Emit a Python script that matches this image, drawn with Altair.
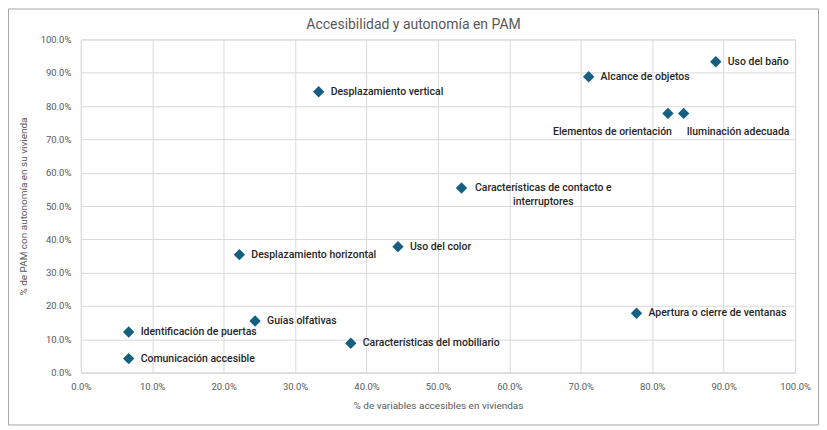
import altair as alt
import pandas as pd

names = [
    "Desplazamiento vertical",
    "Uso del baño",
    "Alcance de objetos",
    "Elementos de orientación",
    "Iluminación adecuada",
    "Características de contacto e interruptores",
    "Uso del color",
    "Desplazamiento horizontal",
    "Guías olfativas",
    "Identificación de puertas",
    "Comunicación accesible",
    "Características del mobiliario",
    "Apertura o cierre de ventanas",
]
x_vals = [0.333, 0.889, 0.711, 0.822, 0.844, 0.533, 0.444, 0.222, 0.244, 0.067, 0.067, 0.378, 0.778]
y_vals = [0.843, 0.933, 0.888, 0.778, 0.778, 0.554, 0.378, 0.354, 0.155, 0.122, 0.042, 0.088, 0.178]
tick_values = [0.0, 0.1, 0.2, 0.3, 0.4, 0.5, 0.6, 0.7, 0.8, 0.9, 1.0]
title_text = "Accesibilidad y autonomía en PAM"

df = pd.DataFrame({"name": names, "x": x_vals, "y": y_vals})

W, H = 716, 334
FONT = "Roboto"
GREY = "#595959"
GRID = "#d9d9d9"

x_enc = alt.X(
    "x:Q",
    scale=alt.Scale(domain=[0, 1], nice=False),
    axis=alt.Axis(
        values=tick_values, format=".1%", title="% de variables accesibles en viviendas",
        grid=True, gridColor=GRID, ticks=False, domain=True, domainColor=GRID,
        labelFlush=False,
        labelColor=GREY, labelFontSize=9.5, labelFont=FONT, labelPadding=9,
        titleColor=GREY, titleFontSize=10, titleFont=FONT, titleFontWeight="normal",
        titlePadding=9,
    ),
)
y_enc = alt.Y(
    "y:Q",
    scale=alt.Scale(domain=[0, 1], nice=False),
    axis=alt.Axis(
        values=tick_values, format=".1%", title="% de PAM con autonomía en su vivienda",
        grid=True, gridColor=GRID, ticks=False, domain=False, labelFlush=False,
        labelColor=GREY, labelFontSize=9.5, labelFont=FONT, labelPadding=10,
        titleColor=GREY, titleFontSize=10, titleFont=FONT, titleFontWeight="normal",
        titlePadding=12,
    ),
)

base = alt.Chart(df).encode(x=x_enc, y=y_enc)

points = base.mark_point(shape="diamond", filled=True, size=130, color="#156082", opacity=1)

special = ["Elementos de orientación", "Iluminación adecuada",
           "Características de contacto e interruptores"]

txt = dict(font=FONT, fontSize=10.5, fontWeight=500, color="#262626", baseline="middle")

lab_right = base.transform_filter(
    alt.FieldOneOfPredicate(field="name", oneOf=[n for n in names if n not in special])
).mark_text(align="left", dx=12, **txt).encode(text="name:N")

lab_elem = base.transform_filter(alt.datum.name == "Elementos de orientación").mark_text(
    align="right", dx=4, dy=19, **txt).encode(text="name:N")

lab_ilum = base.transform_filter(alt.datum.name == "Iluminación adecuada").mark_text(
    align="left", dx=3, dy=19, **txt).encode(text="name:N")

lab_cont = base.transform_filter(
    alt.datum.name == "Características de contacto e interruptores"
).transform_calculate(
    lab="replace(datum.name, 'contacto e ', 'contacto e\\n')"
).mark_text(align="center", dx=82, lineBreak="\n", lineHeight=14, **txt).encode(text="lab:N")

one = pd.DataFrame({"a": [0]})

border = alt.Chart(one).mark_rect(
    fill=None, stroke="#a6a6a6", strokeWidth=1
).encode(
    x=alt.value(-72.5), x2=alt.value(W + 23.5), y=alt.value(-30.5), y2=alt.value(H + 52.5)
)

title = alt.Chart(one).mark_text(
    font=FONT, fontSize=14, color=GREY, align="center", baseline="middle"
).encode(x=alt.value(333.5), y=alt.value(-14), text=alt.value(title_text))

chart = alt.layer(border, title, points, lab_right, lab_elem, lab_ilum, lab_cont).properties(
    width=W,
    height=H,
    autosize="none",
    padding={"left": 73, "top": 31, "right": 24, "bottom": 54},
).configure_view(stroke=GRID).configure(background="white")

chart.save("out.html", embed_options={"renderer": "svg", "actions": False})
